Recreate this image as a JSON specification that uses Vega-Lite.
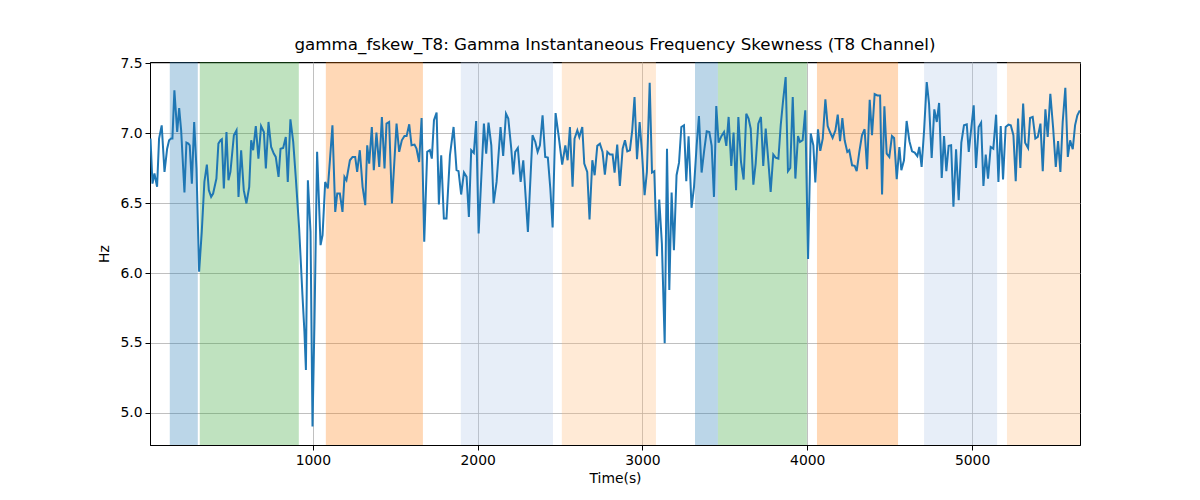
{
  "$schema": "https://vega.github.io/schema/vega-lite/v6.json",
  "width": 930,
  "height": 383,
  "autosize": {"type": "none"},
  "padding": {"left": 150, "top": 62, "right": 120, "bottom": 55},
  "background": "white",
  "title": {"text": "gamma_fskew_T8: Gamma Instantaneous Frequency Skewness (T8 Channel)", "font": "DejaVu Sans", "fontSize": 16.7, "fontWeight": "normal", "color": "black", "anchor": "middle", "offset": 3},
  "config": {
    "view": {"stroke": "black", "strokeWidth": 1},
    "axis": {"domainColor": "black", "tickColor": "black", "labelColor": "black", "titleColor": "black", "gridColor": "#b0b0b0", "gridWidth": 0.8, "labelFont": "DejaVu Sans", "labelFontSize": 13.9, "titleFont": "DejaVu Sans", "titleFontSize": 13.9, "titleFontWeight": "normal", "tickSize": 5, "labelPadding": 3}
  },
  "datasets": {
    "bands": [
      {"s": 132, "e": 302, "k": "a"},
      {"s": 314, "e": 915, "k": "b"},
      {"s": 1079, "e": 1668, "k": "c"},
      {"s": 1898, "e": 2457, "k": "d"},
      {"s": 2511, "e": 3082, "k": "e"},
      {"s": 3319, "e": 3458, "k": "a"},
      {"s": 3458, "e": 3998, "k": "b"},
      {"s": 4059, "e": 4551, "k": "c"},
      {"s": 4709, "e": 5152, "k": "d"},
      {"s": 5212, "e": 5660, "k": "e"}
    ],
    "series": [
      {"t":15,"v":6.962},{"t":27,"v":6.640},{"t":39,"v":6.712},{"t":47,"v":6.664},{"t":55,"v":6.617},{"t":67,"v":6.962},{"t":83,"v":7.057},{"t":100,"v":6.724},{"t":116,"v":6.890},{"t":128,"v":6.950},{"t":140,"v":6.962},{"t":148,"v":6.962},{"t":160,"v":7.307},{"t":177,"v":7.009},{"t":189,"v":7.181},{"t":201,"v":7.021},{"t":221,"v":6.576},{"t":233,"v":6.933},{"t":245,"v":6.926},{"t":253,"v":6.914},{"t":266,"v":6.640},{"t":280,"v":7.081},{"t":294,"v":6.748},{"t":310,"v":6.010},{"t":326,"v":6.295},{"t":342,"v":6.652},{"t":357,"v":6.776},{"t":369,"v":6.593},{"t":383,"v":6.545},{"t":395,"v":6.569},{"t":415,"v":6.676},{"t":427,"v":6.926},{"t":440,"v":6.950},{"t":448,"v":6.957},{"t":460,"v":6.605},{"t":476,"v":7.009},{"t":488,"v":6.664},{"t":500,"v":6.724},{"t":521,"v":6.986},{"t":537,"v":7.021},{"t":549,"v":6.545},{"t":565,"v":6.879},{"t":581,"v":6.593},{"t":597,"v":6.498},{"t":614,"v":6.617},{"t":626,"v":6.950},{"t":638,"v":6.879},{"t":654,"v":7.052},{"t":670,"v":6.819},{"t":686,"v":7.052},{"t":703,"v":7.009},{"t":715,"v":6.748},{"t":731,"v":7.081},{"t":747,"v":6.902},{"t":763,"v":6.855},{"t":775,"v":6.831},{"t":792,"v":6.688},{"t":804,"v":6.890},{"t":820,"v":6.895},{"t":836,"v":6.974},{"t":848,"v":6.652},{"t":864,"v":7.100},{"t":881,"v":6.938},{"t":897,"v":6.676},{"t":917,"v":6.319},{"t":937,"v":5.843},{"t":949,"v":5.581},{"t":958,"v":5.307},{"t":970,"v":6.664},{"t":986,"v":6.295},{"t":998,"v":4.902},{"t":1010,"v":5.652},{"t":1026,"v":6.867},{"t":1047,"v":6.200},{"t":1059,"v":6.271},{"t":1075,"v":6.652},{"t":1091,"v":6.605},{"t":1103,"v":6.795},{"t":1119,"v":7.057},{"t":1136,"v":6.438},{"t":1148,"v":6.569},{"t":1164,"v":6.569},{"t":1180,"v":6.438},{"t":1192,"v":6.688},{"t":1204,"v":6.664},{"t":1225,"v":6.807},{"t":1241,"v":6.831},{"t":1257,"v":6.831},{"t":1269,"v":6.724},{"t":1285,"v":6.879},{"t":1302,"v":6.617},{"t":1318,"v":6.486},{"t":1330,"v":6.914},{"t":1342,"v":6.783},{"t":1358,"v":7.045},{"t":1370,"v":6.736},{"t":1386,"v":7.005},{"t":1403,"v":6.760},
      {"t":1419,"v":7.117},{"t":1435,"v":6.748},{"t":1447,"v":7.069},{"t":1463,"v":7.081},{"t":1480,"v":6.498},{"t":1508,"v":7.069},{"t":1524,"v":6.867},{"t":1540,"v":6.950},{"t":1556,"v":6.981},{"t":1569,"v":6.981},{"t":1585,"v":7.064},{"t":1599,"v":6.914},{"t":1617,"v":6.919},{"t":1629,"v":6.890},{"t":1645,"v":6.795},{"t":1660,"v":7.109},{"t":1676,"v":6.224},{"t":1694,"v":6.867},{"t":1710,"v":6.879},{"t":1722,"v":6.819},{"t":1735,"v":7.093},{"t":1751,"v":7.148},{"t":1765,"v":6.490},{"t":1779,"v":6.843},{"t":1795,"v":6.390},{"t":1811,"v":6.390},{"t":1832,"v":6.843},{"t":1854,"v":7.045},{"t":1872,"v":6.736},{"t":1884,"v":6.729},{"t":1900,"v":6.562},{"t":1917,"v":6.719},{"t":1933,"v":6.688},{"t":1947,"v":6.402},{"t":1961,"v":6.879},{"t":1977,"v":6.859},{"t":1991,"v":7.088},{"t":2006,"v":6.283},{"t":2038,"v":7.069},{"t":2052,"v":6.855},{"t":2066,"v":7.076},{"t":2083,"v":6.914},{"t":2097,"v":6.498},{"t":2115,"v":6.652},{"t":2139,"v":7.045},{"t":2155,"v":6.838},{"t":2172,"v":7.140},{"t":2186,"v":7.105},{"t":2204,"v":6.890},{"t":2216,"v":6.705},{"t":2228,"v":6.867},{"t":2244,"v":6.895},{"t":2261,"v":6.652},{"t":2277,"v":6.807},{"t":2305,"v":6.295},{"t":2333,"v":6.986},{"t":2350,"v":6.938},{"t":2364,"v":6.867},{"t":2378,"v":6.914},{"t":2394,"v":7.129},{"t":2410,"v":6.831},{"t":2426,"v":6.826},{"t":2441,"v":6.605},{"t":2455,"v":6.326},{"t":2473,"v":7.145},{"t":2491,"v":6.986},{"t":2513,"v":6.776},{"t":2532,"v":6.914},{"t":2546,"v":6.807},{"t":2560,"v":7.045},{"t":2576,"v":6.617},{"t":2588,"v":6.962},{"t":2605,"v":7.021},{"t":2617,"v":6.974},{"t":2635,"v":7.045},{"t":2647,"v":6.783},{"t":2665,"v":6.724},{"t":2679,"v":6.383},{"t":2696,"v":6.807},{"t":2710,"v":6.700},{"t":2726,"v":6.910},{"t":2742,"v":6.926},{"t":2758,"v":6.867},{"t":2772,"v":6.705},{"t":2787,"v":6.867},
      {"t":2803,"v":6.848},{"t":2819,"v":6.848},{"t":2831,"v":6.719},{"t":2847,"v":6.919},{"t":2863,"v":6.624},{"t":2880,"v":6.890},{"t":2894,"v":6.950},{"t":2908,"v":6.871},{"t":2924,"v":6.879},{"t":2938,"v":7.021},{"t":2952,"v":7.259},{"t":2967,"v":6.814},{"t":2983,"v":7.081},{"t":2997,"v":6.867},{"t":3013,"v":6.557},{"t":3027,"v":6.724},{"t":3044,"v":7.362},{"t":3058,"v":6.719},{"t":3072,"v":6.729},{"t":3088,"v":6.121},{"t":3102,"v":6.526},{"t":3118,"v":6.212},{"t":3135,"v":5.498},{"t":3149,"v":6.890},{"t":3163,"v":5.879},{"t":3177,"v":6.576},{"t":3191,"v":6.164},{"t":3207,"v":6.700},{"t":3222,"v":6.790},{"t":3236,"v":7.045},{"t":3252,"v":7.057},{"t":3266,"v":6.657},{"t":3280,"v":6.979},{"t":3298,"v":6.467},{"t":3313,"v":6.617},{"t":3329,"v":6.914},{"t":3343,"v":7.124},{"t":3359,"v":6.719},{"t":3375,"v":6.879},{"t":3390,"v":7.014},{"t":3406,"v":7.009},{"t":3420,"v":6.910},{"t":3434,"v":6.545},{"t":3448,"v":7.195},{"t":3462,"v":6.933},{"t":3479,"v":6.979},{"t":3495,"v":7.009},{"t":3509,"v":6.910},{"t":3523,"v":7.117},{"t":3539,"v":6.767},{"t":3553,"v":7.005},{"t":3568,"v":6.593},{"t":3582,"v":7.117},{"t":3598,"v":6.795},{"t":3614,"v":6.669},{"t":3630,"v":7.140},{"t":3644,"v":7.105},{"t":3657,"v":7.033},{"t":3673,"v":6.633},{"t":3687,"v":6.783},{"t":3703,"v":7.069},{"t":3719,"v":7.117},{"t":3733,"v":6.767},{"t":3748,"v":7.033},{"t":3764,"v":6.800},{"t":3778,"v":6.581},{"t":3794,"v":6.848},{"t":3808,"v":6.826},{"t":3825,"v":6.819},{"t":3839,"v":7.057},{"t":3853,"v":7.229},{"t":3869,"v":7.402},{"t":3883,"v":6.729},{"t":3897,"v":6.752},{"t":3912,"v":7.259},{"t":3928,"v":6.676},{"t":3944,"v":6.981},{"t":3956,"v":6.938},{"t":3972,"v":6.950},{"t":3988,"v":7.164},{"t":4005,"v":6.100},{"t":4021,"v":6.998},{"t":4037,"v":6.914},{"t":4049,"v":6.648},{"t":4065,"v":7.029},{"t":4079,"v":6.874},{"t":4094,"v":6.962},{"t":4110,"v":7.243},{"t":4124,"v":7.052},{"t":4138,"v":7.009},{"t":4154,"v":6.967},{"t":4171,"v":7.021},{"t":4185,"v":7.133},
      {"t":4199,"v":6.943},{"t":4213,"v":7.109},{"t":4227,"v":6.950},{"t":4243,"v":6.867},{"t":4255,"v":6.879},{"t":4272,"v":6.771},{"t":4288,"v":6.767},{"t":4300,"v":6.729},{"t":4316,"v":6.867},{"t":4332,"v":6.986},{"t":4348,"v":7.029},{"t":4363,"v":6.743},{"t":4379,"v":7.240},{"t":4393,"v":6.986},{"t":4409,"v":7.281},{"t":4425,"v":7.271},{"t":4442,"v":7.271},{"t":4454,"v":6.562},{"t":4468,"v":7.193},{"t":4482,"v":6.855},{"t":4498,"v":6.831},{"t":4514,"v":6.981},{"t":4527,"v":6.967},{"t":4543,"v":6.671},{"t":4559,"v":6.902},{"t":4571,"v":6.736},{"t":4587,"v":6.807},{"t":4603,"v":7.088},{"t":4620,"v":6.943},{"t":4636,"v":6.871},{"t":4652,"v":6.862},{"t":4668,"v":6.836},{"t":4680,"v":6.902},{"t":4694,"v":6.760},{"t":4709,"v":7.021},{"t":4725,"v":7.367},{"t":4739,"v":7.212},{"t":4755,"v":6.824},{"t":4771,"v":7.171},{"t":4786,"v":7.081},{"t":4800,"v":7.217},{"t":4816,"v":6.681},{"t":4830,"v":6.981},{"t":4844,"v":6.729},{"t":4858,"v":6.910},{"t":4873,"v":6.914},{"t":4887,"v":6.474},{"t":4903,"v":6.886},{"t":4919,"v":6.521},{"t":4935,"v":6.933},{"t":4951,"v":7.057},{"t":4968,"v":7.064},{"t":4980,"v":6.867},{"t":4996,"v":7.045},{"t":5010,"v":7.200},{"t":5024,"v":6.752},{"t":5040,"v":7.045},{"t":5055,"v":7.076},{"t":5069,"v":6.624},{"t":5083,"v":6.848},{"t":5097,"v":6.676},{"t":5113,"v":6.902},{"t":5129,"v":6.890},{"t":5146,"v":7.133},{"t":5160,"v":6.652},{"t":5174,"v":7.052},{"t":5188,"v":6.669},{"t":5204,"v":7.045},{"t":5221,"v":7.062},{"t":5235,"v":7.057},{"t":5251,"v":6.986},{"t":5265,"v":6.657},{"t":5279,"v":7.105},{"t":5293,"v":6.752},{"t":5310,"v":7.212},{"t":5322,"v":6.933},{"t":5340,"v":6.895},{"t":5352,"v":7.109},{"t":5368,"v":7.117},{"t":5384,"v":6.962},{"t":5399,"v":6.974},{"t":5415,"v":7.069},{"t":5429,"v":6.729},{"t":5445,"v":7.171},{"t":5459,"v":6.974},{"t":5475,"v":7.283},{"t":5492,"v":7.038},{"t":5508,"v":6.760},{"t":5522,"v":6.945},{"t":5536,"v":6.724},{"t":5550,"v":7.081},{"t":5566,"v":7.326},{"t":5581,"v":6.831},{"t":5595,"v":6.950},{"t":5611,"v":6.886},{"t":5625,"v":7.057},{"t":5639,"v":7.129},{"t":5654,"v":7.164}
    ]
  },
  "encoding": {
    "x": {"field": "t", "type": "quantitative", "scale": {"domain": [12, 5655], "nice": false, "zero": false}, "axis": {"values": [1000, 2000, 3000, 4000, 5000], "format": "d", "title": "Time(s)", "titlePadding": 5}},
    "y": {"field": "v", "type": "quantitative", "scale": {"domain": [4.77, 7.51], "nice": false, "zero": false}, "axis": {"values": [5.0, 5.5, 6.0, 6.5, 7.0, 7.5], "format": ".1f", "title": "Hz", "titlePadding": 8}}
  },
  "layer": [
    {
      "data": {"name": "bands"},
      "mark": {"type": "rect", "opacity": 0.3, "clip": true},
      "encoding": {
        "x": {"field": "s", "type": "quantitative"},
        "x2": {"field": "e"},
        "y": null,
        "color": {"field": "k", "type": "nominal", "scale": {"domain": ["a", "b", "c", "d", "e"], "range": ["#1f77b4", "#2ca02c", "#ff7f0e", "#aec7e8", "#ffbb78"]}, "legend": null}
      }
    },
    {
      "data": {"name": "series"},
      "mark": {"type": "line", "color": "#1f77b4", "strokeWidth": 2, "clip": true},
      "encoding": {}
    }
  ]
}
